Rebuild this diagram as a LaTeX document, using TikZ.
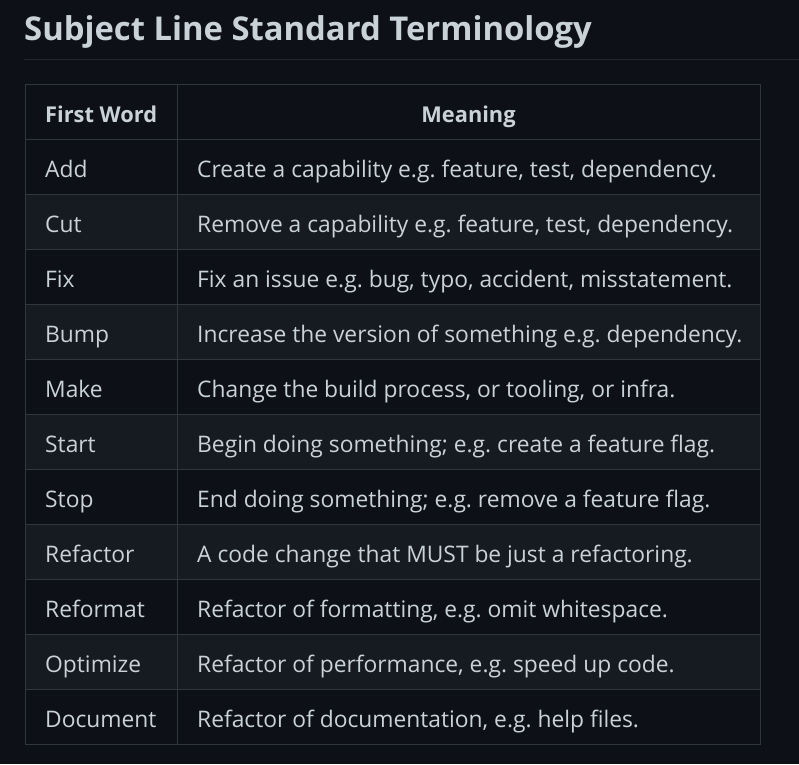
\documentclass[tikz,border=0pt]{standalone}
\usepackage{fontspec}
\setmainfont{Open Sans}
\definecolor{bgc}{HTML}{0D1117}
\definecolor{altc}{HTML}{161B22}
\definecolor{linec}{HTML}{30363D}
\definecolor{rulec}{HTML}{21262D}
\definecolor{txtc}{HTML}{C9D1D9}
\tikzset{
  cell/.style={anchor=base west, inner sep=0pt, text=txtc, font=\fontsize{22.8}{28}\selectfont},
  head/.style={cell, font=\fontsize{21.8}{28}\selectfont\bfseries},
  ttl/.style={anchor=base west, inner sep=0pt, text=txtc, font=\fontsize{32.8}{40}\selectfont\bfseries},
  grid/.style={draw=linec, line width=1pt}
}
\frenchspacing
\begin{document}
\begin{tikzpicture}[x=1pt,y=-1pt]
\fill[bgc] (0,0) rectangle (799,764);
\useasboundingbox (0,0) rectangle (799,764);
\node[ttl] (title) at (24,40) {Subject Line Standard Terminology};
\draw[rulec, line width=1pt] (24,59.5) -- (799,59.5);
% alternate rows
\foreach \i in {2,4,6,8,10}{
  \fill[altc] (25,{84.5+55*\i}) rectangle (760,{84.5+55*(\i+1)});
}
% grid
\draw[grid] (25,84.5) rectangle (760,744.5);
\foreach \i in {1,...,11}{
  \draw[grid] (25,{84.5+55*\i}) -- (760,{84.5+55*\i});
}
\draw[grid] (177.5,84.5) -- (177.5,744.5);
% header
\node[head] (hw) at (45,122) {First Word};
\node[head, anchor=base] (hm) at (468.5,122) {Meaning};
% body
\foreach \w/\m [count=\i] in {
  Add/{Create a capability e.g. feature, test, dependency.},
  Cut/{Remove a capability e.g. feature, test, dependency.},
  Fix/{Fix an issue e.g. bug, typo, accident, misstatement.},
  Bump/{Increase the version of something e.g. dependency.},
  Make/{Change the build process, or tooling, or infra.},
  Start/{Begin doing something; e.g. create a feature flag.},
  Stop/{End doing something; e.g. remove a feature flag.},
  Refactor/{A code change that MUST be just a refactoring.},
  Reformat/{Refactor of formatting, e.g. omit whitespace.},
  Optimize/{Refactor of performance, e.g. speed up code.},
  Document/{Refactor of documentation, e.g. help files.}}{
  \node[cell] (w\i) at (45,{122+55*\i}) {\w};
  \node[cell] (m\i) at (197,{122+55*\i}) {\m};
}
\end{tikzpicture}
\end{document}
